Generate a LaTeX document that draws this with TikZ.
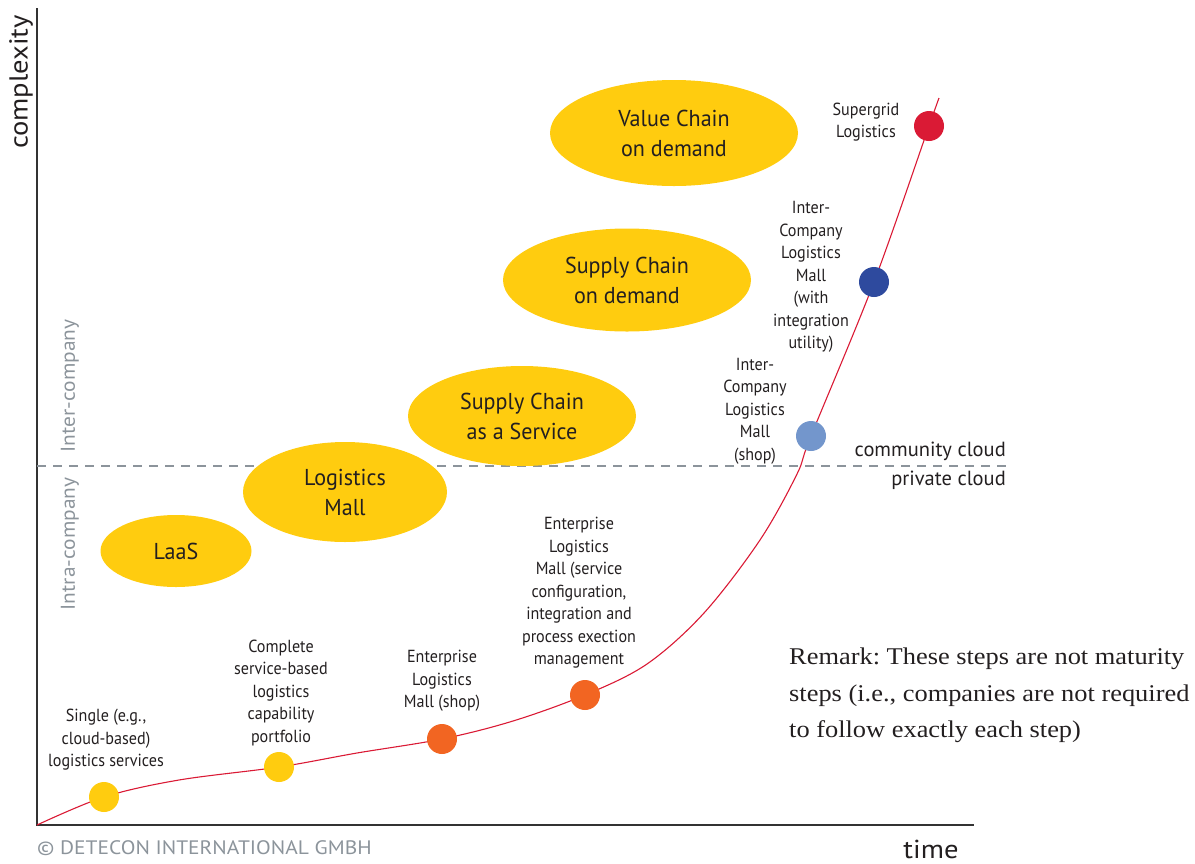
\documentclass[tikz,border=0pt]{standalone}
\usepackage{fontspec}
\setmainfont{Liberation Serif}
\setsansfont{PT Sans}
\newfontfamily\labfont[FakeStretch=0.92]{PT Sans}
\newfontfamily\elfont[FakeStretch=0.96]{PT Sans}
\newfontfamily\widefont[FakeStretch=1.1]{PT Sans}
\newfontfamily\sidefont[FakeStretch=1.07]{PT Sans}
\newfontfamily\remfont[FakeStretch=1.1]{Liberation Serif}
\usetikzlibrary{shapes.geometric}
\frenchspacing
\definecolor{yel}{HTML}{FFCC0F}
\definecolor{org}{HTML}{F26522}
\definecolor{lblue}{HTML}{7396CC}
\definecolor{dblue}{HTML}{2E4A9E}
\definecolor{rd}{HTML}{DA1A35}
\definecolor{gr}{HTML}{8C949B}
\definecolor{ax}{HTML}{333333}
\definecolor{txt}{HTML}{231F20}
\tikzset{
  blob/.style={ellipse, fill=yel, inner sep=0pt, align=center, text=txt,
    font=\elfont\fontsize{23}{30}\selectfont},
  dot/.style={circle, inner sep=0pt, minimum size=30pt},
  lbl/.style={align=center, inner sep=0pt, text=txt,
    font=\labfont\fontsize{17.5}{22.5}\selectfont},
  side/.style={text=gr, inner sep=0pt, font=\sidefont\fontsize{20}{22}\selectfont, rotate=90},
  axis/.style={draw=ax, line width=1.4pt},
  axlabel/.style={inner sep=0pt, text=txt, font=\widefont\fontsize{26}{28}\selectfont},
  cloud/.style={inner sep=0pt, text=txt, font=\sffamily\fontsize{20.5}{24}\selectfont, anchor=east}
}
\begin{document}
\begin{tikzpicture}[x=1pt,y=-1pt]
\useasboundingbox (0,0) rectangle (1195,863);
% axes
\coordinate (o) at (37,825);
\coordinate (ytop) at (37,8);
\coordinate (xend) at (974,825);
\draw[axis] (ytop) -- (o) -- (xend);
% dashed divider
\coordinate (dl) at (37,466);
\coordinate (dr) at (1012,466);
\draw[gr, line width=1.2pt, dash pattern=on 9pt off 7pt] (dl) -- (dr);
% axis labels
\node[axlabel, rotate=90] (cx) at (21,82) {complexity};
\node[axlabel] (tm) at (931,849) {time};
\node[side] (inter) at (70,386) {Inter-company};
\node[side] (intra) at (70,544) {Intra-company};
\node[cloud] (cc) at (1006,451) {community cloud};
\node[cloud] (pc) at (1006,480) {private cloud};
% ellipses
\node[blob, minimum width=151pt, minimum height=72pt] (laas) at (176,551) {LaaS};
\node[blob, minimum width=204pt, minimum height=100pt] (mall) at (345,492) {Logistics\\Mall};
\node[blob, minimum width=228pt, minimum height=100pt] (scaas) at (522,416) {Supply Chain\\as a Service};
\node[blob, minimum width=248pt, minimum height=103pt] (scod) at (627,280) {Supply Chain\\on demand};
\node[blob, minimum width=248pt, minimum height=106pt] (vcod) at (674,133) {Value Chain\\on demand};
% curve points
\coordinate (c0) at (37,825);
\coordinate (p1) at (104,797);
\coordinate (c1) at (179,780);
\coordinate (p2) at (279,767);
\coordinate (c2) at (357,753);
\coordinate (p3) at (442,739);
\coordinate (c3) at (513,721);
\coordinate (p4) at (585,695);
\coordinate (c4) at (647,664);
\coordinate (c5) at (704,613);
\coordinate (c6) at (760,540);
\coordinate (c7) at (797,474);
\coordinate (p5) at (811,436);
\coordinate (p6) at (874,282);
\coordinate (p7) at (929,126);
\coordinate (c8) at (939,98);
\draw[rd, line width=1.1pt] plot[smooth, tension=0.55] coordinates {(c0) (p1) (c1) (p2) (c2) (p3) (c3) (p4) (c4) (c5) (c6) (c7) (p5) (p6) (p7) (c8)};
% dots
\node[dot, fill=yel] (d1) at (p1) {};
\node[dot, fill=yel] (d2) at (p2) {};
\node[dot, fill=org] (d3) at (p3) {};
\node[dot, fill=org] (d4) at (p4) {};
\node[dot, fill=lblue] (d5) at (p5) {};
\node[dot, fill=dblue] (d6) at (p6) {};
\node[dot, fill=rd] (d7) at (p7) {};
% labels
\node[lbl] (l1) at (106,740) {Single (e.g.,\\cloud-based)\\logistics services};
\node[lbl] (l2) at (281,693) {Complete\\service-based\\logistics\\capability\\portfolio};
\node[lbl] (l3) at (442,681) {Enterprise\\Logistics\\Mall (shop)};
\node[lbl] (l4) at (579,593) {Enterprise\\Logistics\\Mall (service\\configuration,\\integration and\\process exection\\management};
\node[lbl] (l5) at (866,122) {Supergrid\\Logistics};
\node[lbl] (l6) at (811,277) {Inter-\\Company\\Logistics\\Mall\\(with\\integration\\utility)};
\node[lbl] (l7) at (755,411) {Inter-\\Company\\Logistics\\Mall\\(shop)};
% remark
\node[anchor=north west, inner sep=0pt, align=left, text=txt, font=\remfont\fontsize{24}{36.5}\selectfont] (rem) at (789,648) {Remark: These steps are not maturity\\steps (i.e., companies are not required\\to follow exactly each step)};
% copyright
\node[anchor=west, inner sep=0pt, text=gr, font=\widefont\fontsize{19.5}{22}\selectfont] (copy) at (37,848) {\textcopyright{} DETECON INTERNATIONAL GMBH};
\end{tikzpicture}
\end{document}
